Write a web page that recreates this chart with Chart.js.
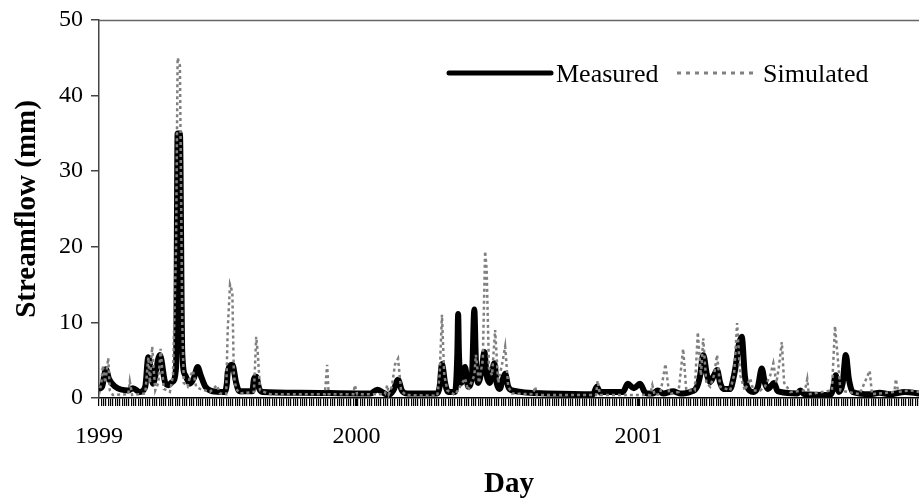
<!DOCTYPE html>
<html>
<head>
<meta charset="utf-8">
<script src="https://cdn.jsdelivr.net/npm/chart.js@4.4.1/dist/chart.umd.min.js"></script>
<style>
  html, body { margin: 0; padding: 0; background: #fff; }
  #wrap { width: 919px; height: 502px; }
</style>
</head>
<body>
<div id="wrap"><canvas id="chart" width="919" height="502"></canvas></div>
<script>
// days counted from the first day of the record (early Feb 1999)
const measuredDays = [0, 4, 9, 13, 21, 38, 44, 53, 60, 64, 70, 79, 86, 90, 95, 100, 102, 105, 108, 112,
  118, 123, 128, 132, 138, 147, 163, 166, 167, 173, 178, 182, 199, 201, 204, 208, 212, 261, 339, 352,
  361, 369, 375, 382, 388, 393, 400, 439, 442, 445, 449, 453, 462, 465, 466, 467, 470, 475, 479, 484,
  487, 489, 492, 497, 500, 503, 507, 513, 516, 520, 524, 527, 531, 536, 581, 641, 646, 650, 680, 686,
  694, 702, 708, 711, 719, 725, 732, 745, 754, 767, 776, 780, 784, 789, 793, 798, 802, 806, 810, 819,
  824, 827, 830, 834, 838, 841, 849, 855, 860, 864, 868, 876, 880, 884, 906, 910, 915, 949, 952, 956,
  960, 965, 969, 973, 978, 1000, 1013, 1026, 1046, 1064];
const measuredFlow = [1.2, 1.5, 3.8, 2.5, 1.5, 1.0, 1.3, 0.8, 1.5, 5.4, 1.9, 5.7, 2.0, 1.7, 2.1, 4.0, 35, 35, 6.0, 3.0,
  1.9, 2.6, 4.1, 3.0, 1.5, 0.9, 0.8, 2.0, 3.4, 4.4, 2.0, 0.9, 0.9, 2.5, 2.8, 1.2, 0.8, 0.7, 0.6, 0.6,
  1.1, 0.7, 0.4, 1.0, 2.4, 1.0, 0.6, 0.6, 1.5, 4.5, 2.0, 0.8, 0.8, 6.0, 11.1, 6.0, 2.0, 4.1, 1.5, 3.0,
  11.7, 5.0, 2.0, 4.0, 6.1, 3.0, 2.0, 4.6, 2.0, 1.2, 2.5, 3.2, 1.5, 1.0, 0.6, 0.5, 1.5, 0.8, 0.8, 1.9,
  1.3, 1.9, 0.8, 0.6, 0.6, 1.0, 0.6, 0.9, 0.6, 0.8, 1.5, 3.0, 5.7, 3.0, 2.1, 3.0, 3.7, 2.0, 1.2, 1.2,
  3.0, 4.8, 7.0, 8.1, 3.0, 1.5, 0.8, 1.5, 3.9, 2.0, 1.2, 2.0, 1.0, 0.8, 0.6, 1.0, 0.5, 0.4, 1.0, 3.0,
  0.8, 2.0, 5.7, 2.5, 0.8, 0.5, 0.7, 0.5, 0.8, 0.6];

const simulatedDays = [0, 3, 5, 8, 12, 14, 18, 38, 40, 43, 60, 64, 66, 69, 73, 77, 80, 84, 92, 96,
  100, 102, 105, 108, 110, 115, 118, 122, 126, 131, 144, 153, 157, 165, 167, 170, 173, 175, 178, 183,
  201, 204, 206, 209, 222, 293, 296, 298, 330, 332, 335, 371, 374, 376, 380, 384, 388, 392, 398, 439,
  442, 445, 448, 452, 462, 475, 479, 487, 489, 493, 498, 501, 503, 506, 510, 514, 518, 524, 527, 531,
  536, 563, 566, 568, 645, 647, 650, 715, 718, 721, 728, 731, 735, 740, 752, 758, 762, 773, 777, 781,
  784, 788, 793, 798, 802, 806, 819, 824, 828, 832, 838, 845, 849, 858, 864, 871, 875, 879, 882, 886,
  889, 897, 916, 919, 921, 951, 955, 958, 962, 987, 1000, 1003, 1032, 1034, 1037, 1052, 1064];
const simulatedFlow = [0.5, 2.0, 4.3, 2.0, 5.3, 1.0, 0.4, 0.5, 2.2, 0.4, 0.6, 5.4, 2.0, 6.8, 1.0, 2.0, 6.5, 1.2, 0.8, 3.0,
  20, 45, 44, 10, 2.0, 1.5, 2.8, 3.6, 1.5, 1.2, 0.8, 1.7, 0.6, 0.5, 9.0, 15, 14, 3.0, 1.2, 0.6,
  0.8, 8.1, 6.0, 1.0, 0.5, 0.5, 4.4, 0.5, 0.5, 1.7, 0.5, 0.5, 1.7, 0.5, 1.5, 4.4, 5.2, 1.0, 0.4, 0.3,
  3.0, 11.0, 3.0, 1.0, 0.4, 2.6, 1.0, 3.0, 5.7, 2.0, 5.0, 19.4, 17, 4.0, 3.0, 9.0, 2.0, 5.0, 6.8, 1.5,
  0.6, 0.5, 1.5, 0.4, 0.4, 2.3, 0.4, 0.4, 1.7, 0.4, 0.5, 2.1, 4.5, 0.5, 0.8, 6.5, 1.0, 1.0, 8.7, 3.0,
  7.9, 2.0, 1.5, 3.0, 5.7, 1.5, 1.0, 3.0, 9.9, 3.0, 1.0, 2.6, 1.0, 1.0, 1.5, 3.0, 4.6, 2.0, 4.0, 7.4,
  2.0, 0.8, 1.0, 2.5, 0.5, 1.0, 9.5, 6.0, 1.0, 0.5, 3.6, 0.5, 0.8, 2.5, 0.8, 1.0, 0.8];

const yearTicks = [0, 334, 700];
const yearLabels = ['1999', '2000', '2001'];
const lastDay = 1064;
const yTicks = [0, 10, 20, 30, 40, 50];

const serif = "'Liberation Serif', 'Times New Roman', serif";

const toPoints = (days, vals) => days.map((d, i) => ({ x: d, y: vals[i] }));

// tick marks along the date axis every 3 days, plus the year marks
const tickDays = [];
for (let d = 0; d <= lastDay; d += 3) tickDays.push(d);
yearTicks.forEach((d) => { if (!tickDays.includes(d)) tickDays.push(d); });
tickDays.sort((a, b) => a - b);

const framePlugin = {
  id: 'frame',
  afterDraw(chart) {
    const { ctx, chartArea } = chart;
    ctx.save();
    // top border of the plot
    ctx.strokeStyle = '#666';
    ctx.lineWidth = 1.5;
    ctx.beginPath();
    ctx.moveTo(chartArea.left, chartArea.top + 0.5);
    ctx.lineTo(chartArea.right, chartArea.top + 0.5);
    ctx.stroke();

    // legend inside the plot
    const ly = 73;
    ctx.lineCap = 'round';
    ctx.strokeStyle = '#000';
    ctx.lineWidth = 5;
    ctx.beginPath();
    ctx.moveTo(449, ly);
    ctx.lineTo(551, ly);
    ctx.stroke();

    ctx.lineCap = 'butt';
    ctx.strokeStyle = '#808080';
    ctx.lineWidth = 3;
    ctx.setLineDash([4, 5]);
    ctx.beginPath();
    ctx.moveTo(677, ly);
    ctx.lineTo(753, ly);
    ctx.stroke();
    ctx.setLineDash([]);

    ctx.fillStyle = '#000';
    ctx.font = '26px ' + serif;
    ctx.textBaseline = 'alphabetic';
    ctx.fillText('Measured', 556, 82);
    ctx.fillText('Simulated', 763, 82);
    ctx.restore();
  },
};

new Chart('chart', {
  type: 'line',
  data: {
    datasets: [
      {
        label: 'Simulated',
        data: toPoints(simulatedDays, simulatedFlow),
        borderColor: '#808080',
        borderWidth: 2.5,
        borderDash: [3, 3],
        pointRadius: 0,
        tension: 0,
        order: 0,
      },
      {
        label: 'Measured',
        data: toPoints(measuredDays, measuredFlow),
        borderColor: '#000',
        borderWidth: 6,
        borderJoinStyle: 'round',
        borderCapStyle: 'round',
        cubicInterpolationMode: 'monotone',
        pointRadius: 0,
        order: 1,
      },
    ],
  },
  options: {
    responsive: false,
    animation: false,
    layout: { autoPadding: false, padding: { top: 20, right: 0, left: 0, bottom: 0 } },
    plugins: {
      legend: { display: false },
      tooltip: { enabled: false },
    },
    scales: {
      x: {
        type: 'linear',
        min: 0,
        max: lastDay,
        afterFit: (scale) => {
          scale.height = 104;
          scale.paddingLeft = 0;
          scale.paddingRight = 0;
        },
        afterBuildTicks: (scale) => { scale.ticks = tickDays.map((v) => ({ value: v })); },
        border: { color: '#000', width: 1.5 },
        grid: { drawOnChartArea: false, tickLength: 8, color: '#000', lineWidth: 1.2 },
        ticks: {
          autoSkip: false,
          maxTicksLimit: 2000,
          maxRotation: 0,
          padding: 16,
          color: '#000',
          font: { family: serif, size: 24 },
          callback: (v) => {
            const i = yearTicks.indexOf(v);
            return i >= 0 ? yearLabels[i] : '';
          },
        },
        title: {
          display: true,
          text: 'Day',
          color: '#000',
          font: { family: serif, size: 29, weight: 'bold' },
          padding: { top: 0, bottom: 0 },
        },
      },
      y: {
        min: 0,
        max: 50,
        afterFit: (scale) => {
          scale.width = 99;
          scale.paddingTop = 0;
          scale.paddingBottom = 0;
        },
        afterBuildTicks: (scale) => { scale.ticks = yTicks.map((v) => ({ value: v })); },
        border: { color: '#444', width: 1.5 },
        grid: { drawOnChartArea: false, tickLength: 8, color: '#444', lineWidth: 1.5 },
        ticks: {
          padding: 8,
          color: '#000',
          font: { family: serif, size: 24 },
        },
        title: {
          display: true,
          text: 'Streamflow (mm)',
          color: '#000',
          font: { family: serif, size: 29, weight: 'bold' },
          padding: { top: 10, bottom: 0 },
        },
      },
    },
  },
  plugins: [framePlugin],
});
</script>
</body>
</html>
